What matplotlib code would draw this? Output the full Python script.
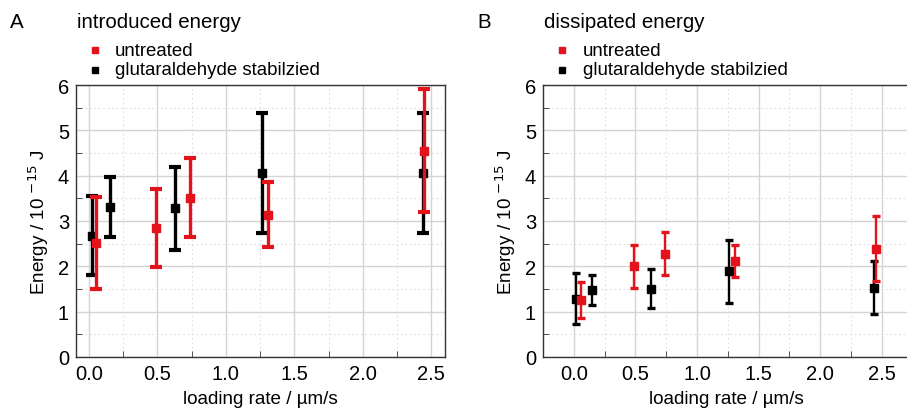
import matplotlib
matplotlib.use("Agg")
import matplotlib.pyplot as plt
from matplotlib.ticker import MultipleLocator
from matplotlib.lines import Line2D

plt.rcParams['font.family'] = ['Liberation Sans', 'DejaVu Sans']
plt.rcParams['mathtext.default'] = 'regular'

RED = '#e3121b'
BLACK = '#000000'

# Panel A: introduced energy
a_untr_x = [0.05, 0.49, 0.74, 1.31, 2.45]
a_untr_y = [2.51, 2.85, 3.51, 3.14, 4.55]
a_untr_err = [1.01, 0.86, 0.87, 0.72, 1.36]
a_glut_x = [0.02, 0.15, 0.63, 1.26, 2.44]
a_glut_y = [2.68, 3.31, 3.28, 4.06, 4.06]
a_glut_err = [0.87, 0.67, 0.91, 1.33, 1.33]

# Panel B: dissipated energy
b_untr_x = [0.055, 0.49, 0.74, 1.31, 2.45]
b_untr_y = [1.26, 2.00, 2.28, 2.12, 2.39]
b_untr_err = [0.40, 0.48, 0.48, 0.36, 0.72]
b_glut_x = [0.02, 0.15, 0.63, 1.26, 2.44]
b_glut_y = [1.29, 1.48, 1.51, 1.89, 1.53]
b_glut_err = [0.56, 0.33, 0.44, 0.69, 0.58]

titles = ['introduced energy', 'dissipated energy']
letters = ['A', 'B']
legend_labels = ['untreated', 'glutaraldehyde stabilzied']
xticks = [0.0, 0.5, 1.0, 1.5, 2.0, 2.5]
yticks = [0, 1, 2, 3, 4, 5, 6]

W, H = 907, 410
fig = plt.figure(figsize=(W / 100, H / 100), dpi=100)

def px_axes(l, r, t, b):
    return fig.add_axes([l / W, 1 - b / H, (r - l) / W, (b - t) / H])

axA = px_axes(76, 445, 86, 358)
axB = px_axes(543, 910, 86, 358)

panels = [
    (axA, a_untr_x, a_untr_y, a_untr_err, a_glut_x, a_glut_y, a_glut_err, (-0.095, 2.60), 2.4, 4.3, 3.0),
    (axB, b_untr_x, b_untr_y, b_untr_err, b_glut_x, b_glut_y, b_glut_err, (-0.25, 2.73), 1.7, 3.2, 2.4),
]

for ax, ux, uy, ue, gx, gy, ge, xl, lw, cs, cap in panels:
    ax.errorbar(gx, gy, yerr=ge, fmt='s', color=BLACK, ms=5.2, elinewidth=lw,
                capsize=cs, capthick=cap, zorder=3)
    ax.errorbar(ux, uy, yerr=ue, fmt='s', color=RED, ms=5.2, elinewidth=lw,
                capsize=cs, capthick=cap, zorder=4)
    ax.set_xlim(*xl)
    ax.set_ylim(0, 6)
    ax.set_xticks(xticks)
    ax.set_xticklabels([f'{v:.1f}' for v in xticks])
    ax.set_yticks(yticks)
    ax.xaxis.set_minor_locator(MultipleLocator(0.25))
    ax.yaxis.set_minor_locator(MultipleLocator(0.5))
    ax.grid(which='major', color='#d4d4d4', lw=1.0, zorder=0)
    ax.grid(which='minor', color='#dedede', lw=0.8, ls=(0, (1.5, 2.5)), zorder=0)
    ax.set_axisbelow(True)
    ax.tick_params(which='both', direction='in', top=False, right=False,
                   labelsize=14.5, colors='#333333', labelcolor='black')
    ax.tick_params(which='major', length=0, pad=5)
    ax.tick_params(which='minor', length=4)
    for s in ax.spines.values():
        s.set_color('#333333')
        s.set_linewidth(1.0)
    ax.set_xlabel('loading rate / µm/s', fontsize=13.6, labelpad=5)
    ax.set_ylabel('Energy / 10 $^{\\mathsf{-15}}$ J', fontsize=13.6, labelpad=5)

# letters and titles
fig.text(10 / W, 1 - 22 / H, 'A', fontsize=14.8, va='center', ha='left')
fig.text(77 / W, 1 - 22 / H, 'introduced energy', fontsize=14.8, va='center', ha='left')
fig.text(477 / W, 1 - 22 / H, 'B', fontsize=14.8, va='center', ha='left')
fig.text(544 / W, 1 - 22 / H, 'dissipated energy', fontsize=14.8, va='center', ha='left')

# legends
for (mx, tx) in [(95, 115), (562, 583)]:
    for lab, col, y in [(legend_labels[0], RED, 51), (legend_labels[1], BLACK, 71)]:
        fig.add_artist(Line2D([mx / W], [1 - y / H], marker='s', color=col, ms=5,
                              ls='none', transform=fig.transFigure))
        fig.text(tx / W, 1 - y / H, lab, fontsize=13.4, va='center', ha='left')

fig.savefig('out.png', dpi=100)
